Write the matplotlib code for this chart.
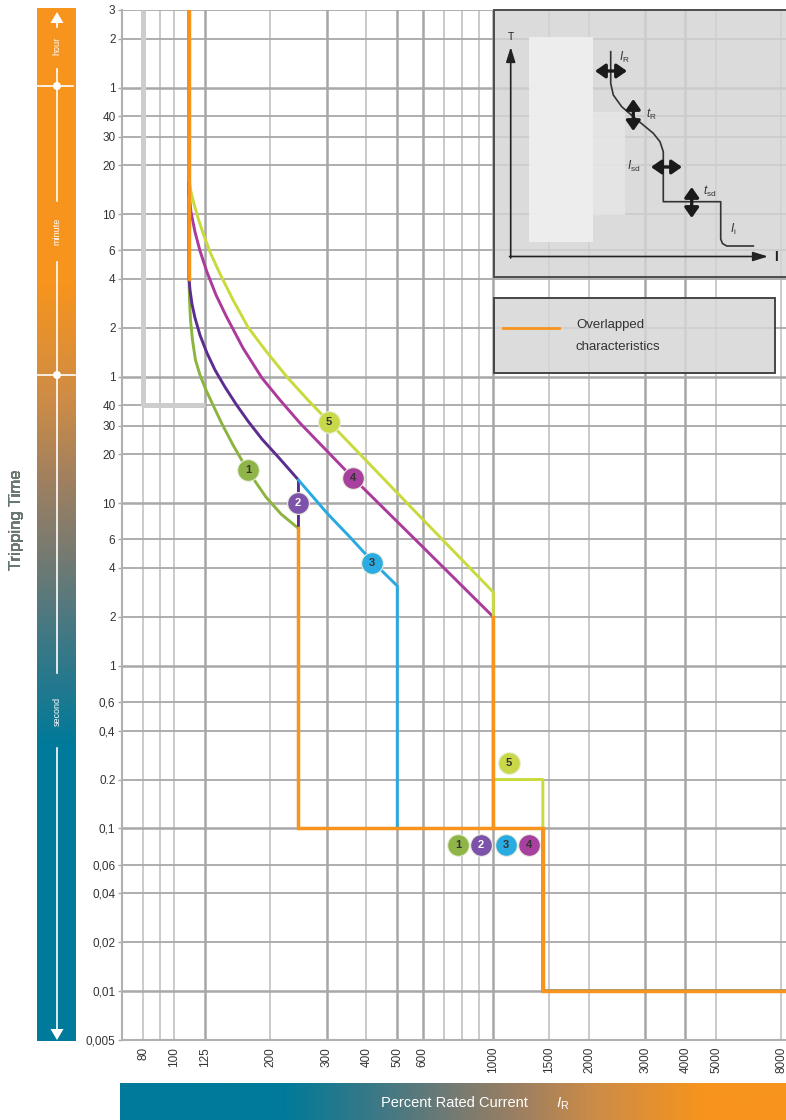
import numpy as np
import matplotlib
matplotlib.use('Agg')
import matplotlib.pyplot as plt
from matplotlib.patches import Rectangle, Polygon, Circle, FancyArrowPatch
from matplotlib.ticker import NullLocator

plt.rcParams['font.family'] = ['Liberation Sans', 'DejaVu Sans']
plt.rcParams['mathtext.fontset'] = 'custom'
plt.rcParams['mathtext.rm'] = 'Liberation Sans'
plt.rcParams['mathtext.it'] = 'Liberation Sans:italic'

# ---------------- data ----------------
x_ticks = [80, 100, 125, 200, 300, 400, 500, 600, 1000, 1500, 2000, 3000, 4000, 5000, 8000]
x_tick_labels = ['80', '100', '125', '200', '300', '400', '500', '600', '1000', '1500',
                 '2000', '3000', '4000', '5000', '8000']
x_grid_thin = [80, 90, 100, 200, 400, 700, 800, 900, 1500, 2000, 5000, 8000]
x_grid_thick = [125, 300, 500, 600, 1000, 3000, 4000]

# tripping time in seconds (3 h ... 5 ms)
y_ticks = [10800, 7200, 3600, 2400, 1800, 1200, 600, 360, 240, 120, 60, 40, 30, 20, 10,
           6, 4, 2, 1, 0.6, 0.4, 0.2, 0.1, 0.06, 0.04, 0.02, 0.01, 0.005]
y_tick_labels = ['3', '2', '1', '40', '30', '20', '10', '6', '4', '2', '1', '40', '30', '20',
                 '10', '6', '4', '2', '1', '0,6', '0,4', '0.2', '0,1', '0,06', '0,04', '0,02',
                 '0,01', '0,005']
y_grid_thick = [3600, 60, 10, 1, 0.1, 0.01]

gray_x = [80, 80, 125]
gray_y = [10800, 40, 40]

c1_x = [111.2, 111.2, 111.6, 112.4, 114.0, 116.5, 120.4, 125.7, 132.2, 141.1, 152.8, 170.2,
        193.9, 216.1, 245, 245, 1430, 1430, 9000]
c1_y = [10800, 240, 178, 134, 101, 76.0, 61.4, 49.7, 40.2, 30.7, 22.8, 15.8,
        10.9, 8.58, 7.0, 0.1, 0.1, 0.01, 0.01]

c2_x = [111.2, 111.2, 112.0, 113.6, 116.1, 120.4, 126.6, 134.2, 144.2, 156.1, 170.2, 188.3,
        213.0, 245, 245, 1430, 1430, 9000]
c2_y = [10800, 240, 205, 168, 138, 108, 83.9, 65.9, 51.8, 40.7, 32.0, 24.8,
        19.0, 13.9, 0.1, 0.1, 0.01, 0.01]

c3_x = [245, 301, 355, 417, 500, 500, 1430, 1430, 9000]
c3_y = [13.9, 8.7, 6.2, 4.4, 3.1, 0.1, 0.1, 0.01, 0.01]

c4_x = [111.2, 111.2, 112.8, 116.1, 120.4, 126.6, 135.1, 145.3, 164.2, 188.3, 214.5, 247.8,
        363.3, 589, 1000, 1000, 1430, 1430, 9000]
c4_y = [10800, 797, 618, 466, 356, 264, 191, 142, 90.0, 58.9, 43.1, 31.1,
        14.3, 5.6, 2.0, 0.1, 0.1, 0.01, 0.01]

c5_x = [111.2, 111.2, 112.8, 115.3, 118.7, 123.0, 129.4, 139.1, 152.8, 170.2, 193.8, 225.6,
        262.5, 305.5, 548, 1000, 1000, 1430, 1430, 1430, 9000]
c5_y = [10800, 972, 820, 692, 567, 459, 351, 257, 178, 121, 86.3, 59.7,
        43.1, 31.6, 9.6, 2.84, 0.2, 0.2, 0.1, 0.01, 0.01]

overlap_segments_x = [[111.2, 111.2], [245, 245, 1430, 1430, 9000], [1000, 1000]]
overlap_segments_y = [[10800, 240], [7.0, 0.1, 0.1, 0.01, 0.01], [2.0, 0.1]]

marker_labels = ['1', '2', '3', '4', '5', '5', '1', '2', '3', '4']
marker_curve = [0, 1, 2, 3, 4, 4, 0, 1, 2, 3]
marker_x = [170, 244, 417, 363, 305, 1120, 775, 915, 1096, 1294]
marker_y = [16.0, 10.0, 4.3, 14.3, 31.6, 0.252, 0.079, 0.079, 0.079, 0.079]

curve_colors = ['#8cb43f', '#5c2d91', '#27aae1', '#ab3a9c', '#c9da3c']
marker_colors = ['#8fb548', '#7d52ab', '#2aace2', '#a8409f', '#c8d848']
marker_text_colors = ['#333333', '#ffffff', '#333333', '#333333', '#333333']
orange = '#f7941d'

# ---------------- figure ----------------
W, H = 786, 1120
fig = plt.figure(figsize=(W / 100, H / 100), dpi=100)
ax = fig.add_axes([121.7 / W, 80 / H, (W - 121.7) / W, 1030 / H])
ax.set_xscale('log')
ax.set_yscale('log')

for v in x_grid_thin:
    ax.axvline(v, color='#bcbcbc', lw=1.1, zorder=1)
for v in x_grid_thick:
    ax.axvline(v, color='#a6a6a6', lw=1.8, zorder=1)
for v in y_ticks:
    ax.axhline(v, color='#a8a8a8', lw=1.8 if v in y_grid_thick else 1.3, zorder=1)

ax.plot(gray_x, gray_y, color='#cdcdcd', lw=3.6, solid_capstyle='butt', zorder=2)
for xs, ys, col in zip([c1_x, c2_x, c3_x, c4_x, c5_x], [c1_y, c2_y, c3_y, c4_y, c5_y], curve_colors):
    ax.plot(xs, ys, color=col, lw=2.1, zorder=3, solid_joinstyle='round')
for xs, ys in zip(overlap_segments_x, overlap_segments_y):
    ax.plot(xs, ys, color=orange, lw=2.5, zorder=4, solid_joinstyle='miter')

for lab, ci, mx, my in zip(marker_labels, marker_curve, marker_x, marker_y):
    ax.scatter([mx], [my], s=245, color=marker_colors[ci], edgecolors='#e8eed8', linewidths=0.8,
               zorder=6)
    ax.text(mx, my, lab, ha='center', va='center', fontsize=8, fontweight='bold',
            color=marker_text_colors[ci], zorder=7)

ax.set_xlim(68.4, 8272)
ax.set_ylim(0.005, 10800)
ax.xaxis.set_minor_locator(NullLocator())
ax.yaxis.set_minor_locator(NullLocator())
ax.set_xticks(x_ticks)
ax.set_xticklabels(x_tick_labels, rotation=90, fontsize=8.5, color='#333333')
ax.set_yticks(y_ticks)
ax.set_yticklabels(y_tick_labels, fontsize=8.5, color='#333333')
ax.tick_params(axis='x', length=0, pad=5)
ax.tick_params(axis='y', length=3, width=1, color='#a8a8a8', pad=1.5)
for s in ['top', 'right']:
    ax.spines[s].set_visible(False)
for s in ['left', 'bottom']:
    ax.spines[s].set_color('#b0b0b0')
    ax.spines[s].set_linewidth(1.5)

# ---------------- decorations (pixel overlay) ----------------
ov = fig.add_axes([0, 0, 1, 1])
ov.axis('off')
ov.patch.set_alpha(0)

stop_pos = [285, 400, 480, 560, 640, 745]
stop_rgb = np.array([[247, 148, 29], [205, 140, 70], [160, 128, 95], [115, 122, 115],
                     [62, 120, 133], [0, 122, 154]]) / 255.0


def bar_color(v):
    v = np.atleast_1d(np.asarray(v, dtype=float))
    return np.stack([np.interp(v, stop_pos, stop_rgb[:, k]) for k in range(3)], axis=-1)


ys = np.arange(9, 1042)
img = bar_color(ys)[:, None, :]
ov.imshow(img, extent=(37, 76, 1041.5, 9), aspect='auto', origin='upper', zorder=1)

# horizontal bar: teal at x<=283, orange at x>=703
xs = np.arange(120, 787)
mapped = 745 - (np.clip(xs, 283, 703) - 283) * (745 - 285) / (703 - 283)
img2 = bar_color(mapped)[None, :, :]
ov.imshow(img2, extent=(120, 786, 1120, 1083), aspect='auto', origin='upper', zorder=1)
ov.text(454, 1103, 'Percent Rated Current', color='white', fontsize=10.5, ha='center',
        va='center', zorder=3)
ov.text(563, 1104, r'$I_\mathrm{R}$', color='white', fontsize=11, ha='center', va='center',
        zorder=3)

# time-scale arrow inside the bar
for y0, y1 in [(22, 27), (69, 201), (262, 673), (748, 1030)]:
    ov.plot([57, 57], [y0, y1], color='white', lw=1.2, zorder=3)
ov.add_patch(Polygon([(50.5, 23), (63.5, 23), (57, 12)], closed=True, fc='white', ec='none', zorder=3))
ov.add_patch(Polygon([(50.5, 1029), (63.5, 1029), (57, 1040)], closed=True, fc='white', ec='none', zorder=3))
ov.plot([37, 73], [86, 86], color='white', lw=1.2, zorder=3)
ov.plot([37, 75], [375, 375], color='white', lw=1.2, zorder=3)
ov.add_patch(Circle((57, 86), 4, fc='white', ec='none', zorder=4))
ov.add_patch(Circle((57, 375), 4, fc='white', ec='none', zorder=4))
for lab, yc in [('hour', 46), ('minute', 231), ('second', 711)]:
    ov.text(57, yc, lab, rotation=90, color='white', fontsize=6.5, ha='center', va='center', zorder=4)

# "Tripping Time" with colour gradient
n = 14
for i in range(n):
    y0 = 455 + i * (130 / n)
    y1 = y0 + 130 / n
    col = bar_color((y0 + y1) / 2)[0]
    t = ov.text(17, 520, 'Tripping Time', rotation=90, ha='center', va='center', fontsize=12,
                color=col, zorder=3)
    r = Rectangle((0, y0), 40, y1 - y0 + 0.6, transform=ov.transData)
    t.set_clip_path(r)

# inset schematic
ov.add_patch(Rectangle((493.5, 10), 300, 267, fc=(0.83, 0.83, 0.83, 0.82), ec='#4d4d4d', lw=1.4,
                       zorder=2))
ov.add_patch(Rectangle((529, 37), 64, 205, fc=(0.94, 0.94, 0.94, 0.9), ec='none', zorder=2))
ov.add_patch(Rectangle((593, 112), 32, 103, fc=(0.9, 0.9, 0.9, 0.85), ec='none', zorder=2))
ov.add_patch(FancyArrowPatch((510.7, 258), (510.7, 47), arrowstyle='-|>,head_length=0.9,head_width=0.28',
                             mutation_scale=10, lw=1.2, color='#222222', shrinkA=0, shrinkB=0, zorder=3))
ov.add_patch(FancyArrowPatch((509.5, 256.5), (768, 256.5), arrowstyle='-|>,head_length=0.9,head_width=0.28',
                             mutation_scale=10, lw=1.2, color='#222222', shrinkA=0, shrinkB=0, zorder=3))
ov.text(511, 37, 'T', fontsize=7.5, color='#222222', ha='center', va='center', zorder=3)
ov.text(776, 257, 'I', fontsize=10, fontweight='bold', color='#222222', ha='center', va='center', zorder=3)
sk_x = [610.7, 610.7, 613.3, 621.7, 633.3, 643.3, 653.3, 660, 663.3, 663.3, 720.7, 720.7, 722.5,
        726.7, 753.3]
sk_y = [51.7, 83.3, 95, 106.7, 116.7, 125, 133.3, 141.7, 151.7, 201.7, 201.7, 239, 243.5, 246, 246]
ov.plot(sk_x, sk_y, color='#333333', lw=1.2, zorder=3)
arrow_style = '<|-|>,head_length=0.6,head_width=0.42'
for pa, pb in [((595, 71), (627, 71)), ((633.3, 99), (633.3, 131)), ((651, 167), (682, 167)),
               ((691.7, 187), (691.7, 218))]:
    ov.add_patch(FancyArrowPatch(pa, pb, arrowstyle=arrow_style, mutation_scale=10, lw=2.4,
                                 color='#1a1a1a', shrinkA=0, shrinkB=0, zorder=4))
for txt, px, py in [(r'$I_\mathrm{R}$', 619, 57), (r'$t_\mathrm{R}$', 646, 114),
                    (r'$I_\mathrm{sd}$', 627, 166), (r'$t_\mathrm{sd}$', 703, 191),
                    (r'$I_\mathrm{i}$', 730, 229)]:
    ov.text(px, py, txt, fontsize=8.5, color='#333333', ha='left', va='center', zorder=4)

# legend box
ov.add_patch(Rectangle((493.5, 298), 281.5, 75, fc=(0.84, 0.84, 0.84, 0.85), ec='#454545', lw=1.4,
                       zorder=2))
ov.plot([503, 559], [328, 328], color=orange, lw=2.0, zorder=3)
ov.text(576, 325, 'Overlapped', fontsize=9.5, color='#333333', ha='left', va='center', zorder=3)
ov.text(576, 347, 'characteristics', fontsize=9.5, color='#333333', ha='left', va='center', zorder=3)

ov.set_xlim(0, W)
ov.set_ylim(H, 0)

fig.savefig('out.png', dpi=100)
